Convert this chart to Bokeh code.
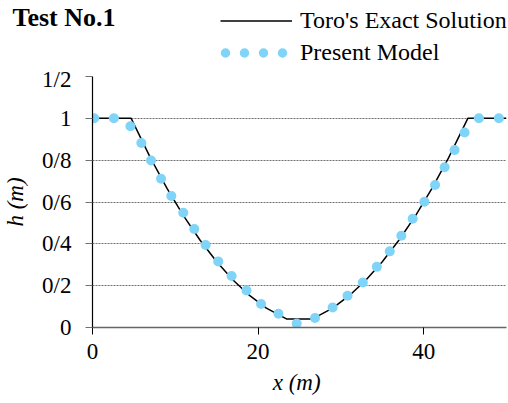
import numpy as np
from bokeh.plotting import figure
from bokeh.layouts import column
from bokeh.models import FixedTicker, Legend, LegendItem, Label, Range1d
from bokeh.embed import file_html
from bokeh.resources import INLINE

# Toro's exact solution
exact_x = [0, 4.67, 7, 9, 11, 13, 15, 17, 19, 21, 23.42, 26.58, 29, 31, 33, 35, 37, 39, 41, 43, 45.33, 50]
exact_h = [1.0, 1.0, 0.811, 0.665, 0.534, 0.417, 0.314, 0.226, 0.152, 0.093, 0.041,
           0.041, 0.093, 0.152, 0.226, 0.314, 0.417, 0.534, 0.665, 0.811, 1.0, 1.0]

# Present model points
model_x = [0.2, 2.58, 4.58, 5.9, 7.07, 8.28, 9.52, 10.96, 12.29, 13.66, 15.18, 16.8, 18.6,
           20.36, 22.46, 24.66, 26.87, 29.0, 30.8, 32.65, 34.34, 35.9, 37.3, 38.67, 40.08,
           41.37, 42.53, 43.73, 44.94, 46.67, 49.08]
model_h = [1.0, 1.0, 0.962, 0.882, 0.798, 0.711, 0.629, 0.549, 0.471, 0.394, 0.316, 0.246, 0.177,
           0.112, 0.066, 0.019, 0.045, 0.096, 0.152, 0.215, 0.29, 0.364, 0.439, 0.52, 0.601,
           0.681, 0.766, 0.849, 0.932, 1.0, 1.0]

x_ticks = [0, 20, 40]
y_ticks = [0, 0.2, 0.4, 0.6, 0.8, 1.0, 1.2]
y_tick_labels = ["0", "0/2", "0/4", "0/6", "0/8", "1", "1/2"]

FONT = "Liberation Serif"
DOT = "#80d4f7"
TOP_H = 66

# ---------- header: title + legend ----------
top = figure(width=508, height=TOP_H, x_range=Range1d(0, 508), y_range=Range1d(0, TOP_H),
             x_axis_type=None, y_axis_type=None, output_backend="svg", toolbar_location=None,
             min_border=0)
top.frame_align = False
top.outline_line_color = None
top.background_fill_color = "white"
top.border_fill_color = "white"

nan = np.array([np.nan])
leg_line = top.line(x=nan, y=nan, line_color="black", line_width=1.5)
leg_dots = top.line(x=nan, y=nan, line_color=DOT, line_width=9.5, line_cap="round",
                    line_dash="0 19", line_dash_offset=14)

legend = Legend(items=[LegendItem(label="Toro's Exact Solution", renderers=[leg_line]),
                       LegendItem(label="Present Model", renderers=[leg_dots])],
                location=(220, 0), margin=0, padding=0, spacing=5,
                glyph_width=72, glyph_height=27, label_height=27, label_standoff=8,
                label_text_font=FONT, label_text_font_size="24px", label_text_color="black",
                border_line_color=None, background_fill_alpha=0)
top.add_layout(legend, "center")

title = Label(x=12, y=48.7, x_units="screen", y_units="screen", text="Test No.1",
              text_font=FONT, text_font_style="bold", text_font_size="26px",
              text_color="black", text_baseline="alphabetic")
top.add_layout(title)

# ---------- main chart ----------
p = figure(width=508, height=403 - TOP_H, x_range=Range1d(0, 50), y_range=Range1d(0, 1.2),
           output_backend="svg", toolbar_location=None,
           min_border_left=90, min_border_right=2, min_border_top=10, min_border_bottom=76)
p.frame_align = False
p.outline_line_color = None
p.background_fill_color = "white"
p.border_fill_color = "white"

p.xgrid.visible = False
p.ygrid.ticker = FixedTicker(ticks=y_ticks[1:])
p.ygrid.grid_line_color = "#707070"
p.ygrid.grid_line_dash = "2 1"
p.ygrid.grid_line_width = 1

p.line(exact_x, exact_h, line_color="black", line_width=1.5)
p.scatter(model_x, model_h, size=10, fill_color=DOT, line_color=None)

xa = p.xaxis[0]
xa.ticker = FixedTicker(ticks=x_ticks)
xa.minor_tick_line_color = None
xa.major_tick_in = 0
xa.major_tick_out = 7
xa.major_tick_line_color = "black"
xa.major_label_standoff = 9
xa.axis_label = "x  (m)"
xa.axis_label_text_font = FONT
xa.axis_label_text_font_style = "italic"
xa.axis_label_text_font_size = "23px"
xa.axis_label_text_color = "black"
xa.axis_label_standoff = 8
xa.major_label_text_font = FONT
xa.major_label_text_font_size = "23px"
xa.major_label_text_color = "black"
xa.axis_line_color = "#666666"
xa.axis_line_width = 1.5

ya = p.yaxis[0]
ya.ticker = FixedTicker(ticks=y_ticks)
ya.major_label_overrides = {t: s for t, s in zip(y_ticks, y_tick_labels)}
ya.minor_tick_line_color = None
ya.major_tick_in = 0
ya.major_tick_out = 7
ya.major_tick_line_color = "#707070"
ya.major_label_standoff = 14
ya.axis_label = "h (m)"
ya.axis_label_text_font = FONT
ya.axis_label_text_font_style = "italic"
ya.axis_label_text_font_size = "23px"
ya.axis_label_text_color = "black"
ya.axis_label_standoff = 11
ya.major_label_text_font = FONT
ya.major_label_text_font_size = "23px"
ya.major_label_text_color = "black"
ya.axis_line_color = "black"
ya.axis_line_width = 1.2

layout = column(top, p)
open("out.html", "w").write(file_html(layout, INLINE))
